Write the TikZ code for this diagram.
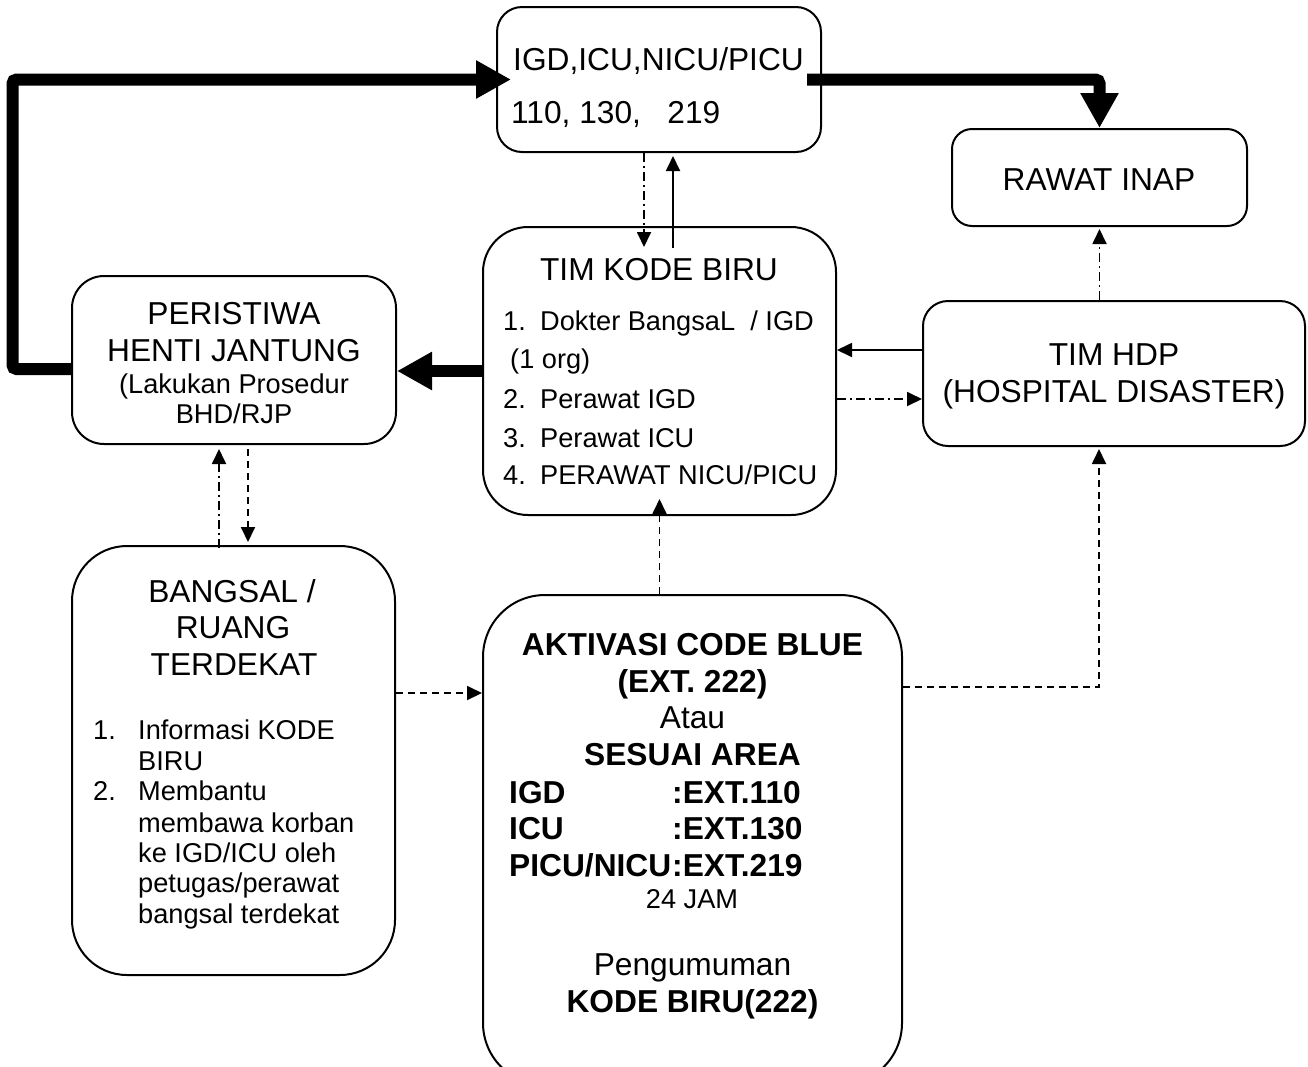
\documentclass[tikz,border=0pt]{standalone}
\usepackage{fontspec}
\setmainfont{Liberation Sans}
\usetikzlibrary{arrows.meta}

\newcommand\bigfont{\fontsize{31.7pt}{36.7pt}\selectfont}
\newcommand\midfont{\fontsize{27.2pt}{31pt}\selectfont}

\tikzset{
	box/.style={draw, line width=2pt, rounded corners=#1, inner sep=0pt},
	txt/.style={inner sep=0pt, font=\bigfont},
	boldtxt/.style={inner sep=0pt, font=\bigfont\bfseries},
	subtxt/.style={inner sep=0pt, font=\midfont},
	thickarrow/.style={line width=12pt, rounded corners=4pt,
		-{Triangle[length=35pt,width=36pt]}},
	thinarrow/.style={line width=1.8pt, -{Triangle[length=15pt,width=14pt]}},
	dashedline/.style={dash pattern=on 7pt off 5pt},
	dashdotline/.style={dash pattern=on 9pt off 4pt on 2pt off 4pt},
}

\begin{document}
\begin{tikzpicture}[x=1pt,y=-1pt]
	
	\fill[white] (0,0) rectangle (1308,1066);
	\useasboundingbox (0,0) rectangle (1308,1066);
	
	% boxes
	\node[box=25pt, minimum width=324pt, minimum height=145pt] (igd) at (659,79.5) {};
	\node[box=45pt, minimum width=353pt, minimum height=288pt] (kode) at (659.5,371) {};
	\node[box=20pt, minimum width=295pt, minimum height=97pt] (rawat) at (1099.5,177.5) {};
	\node[box=25pt, minimum width=382pt, minimum height=145pt] (hdp) at (1114,373.5) {};
	\node[box=32pt, minimum width=324pt, minimum height=168pt] (peri) at (234,360) {};
	\node[box=55pt, minimum width=323pt, minimum height=429pt] (bangsal) at (233.5,760.5) {};
	\node[box=62pt, minimum width=419pt, minimum height=490pt] (akt) at (692.5,840) {};
	
	% texts
	\node[txt, anchor=base west] (igdtop) at (513,70) {IGD,ICU,NICU/PICU};
	\node[txt, anchor=base west] (igdext) at (511,123) {110, 130,\ \ \ 219};
	
	\node[txt, anchor=base] (kodetitle) at (659,280) {TIM KODE BIRU};
	\foreach \n/\item/\y in {1/{Dokter BangsaL\ \ / IGD}/330, 2/{Perawat IGD}/408,
		3/{Perawat ICU}/447, 4/{PERAWAT NICU/PICU}/484}
	{
		\node[subtxt, anchor=base west] (kodenum\n) at (503,\y) {\n.};
		\node[subtxt, anchor=base west] (kodeitem\n) at (540,\y) {\item};
	}
	\node[subtxt, anchor=base west] (kodeorg) at (510,368) {(1 org)};
	
	\node[txt, anchor=base] (rawattxt) at (1099,190) {RAWAT INAP};
	\node[txt, anchor=base] (hdptop) at (1114,365) {TIM HDP};
	\node[txt, anchor=base] (hdpsub) at (1114,402) {(HOSPITAL DISASTER)};
	
	\node[txt, anchor=base] (peritop) at (234,324) {PERISTIWA};
	\node[txt, anchor=base] (perimid) at (234,361) {HENTI JANTUNG};
	\node[subtxt, anchor=base] (perisub) at (234,393) {(Lakukan Prosedur};
	\node[subtxt, anchor=base] (peribot) at (234,423) {BHD/RJP};
	
	\node[txt, anchor=base] (bangsaltop) at (232,602) {BANGSAL /};
	\node[txt, anchor=base] (bangsalmid) at (233,638) {RUANG};
	\node[txt, anchor=base] (bangsalbot) at (234,675) {TERDEKAT};
	\node[subtxt, anchor=base west] (bangsalnum1) at (93,739) {1.};
	\node[subtxt, anchor=base west] (bangsalnum2) at (93,800) {2.};
	\foreach \item/\y [count=\i] in {Informasi KODE/739, BIRU/770, Membantu/800,
		membawa korban/832, {ke IGD/ICU oleh}/862, {petugas/perawat}/892,
		bangsal terdekat/923}
		\node[subtxt, anchor=base west] (bangsalitem\i) at (138,\y) {\item};
	
	\node[boldtxt, anchor=base] (akttitle) at (692.5,655) {AKTIVASI CODE BLUE};
	\node[boldtxt, anchor=base] (aktext) at (692.5,692) {(EXT. 222)};
	\node[txt, anchor=base] (aktatau) at (692.5,728) {Atau};
	\node[boldtxt, anchor=base] (aktarea) at (692.5,765) {SESUAI AREA};
	\foreach \unit/\ext/\y in {IGD/110/803, ICU/130/839, {PICU/NICU}/219/876}
	{
		\node[boldtxt, anchor=base west] (aktunit\ext) at (509,\y) {\unit};
		\node[boldtxt, anchor=base west] (aktnum\ext) at (672,\y) {:EXT.\ext};
	}
	\node[subtxt, anchor=base] (aktjam) at (692,908) {24 JAM};
	\node[txt, anchor=base] (aktinfo) at (692.5,975) {Pengumuman};
	\node[boldtxt, anchor=base] (aktkode) at (692.5,1012) {KODE BIRU(222)};
	
	% thick connectors
	\draw[thickarrow, shorten >=-15pt] ([yshift=-9pt]peri.west) -- ++(-58.5,0) |- (igd.west);
	\draw[thickarrow, shorten <=-15pt] (igd.east) -| (rawat.north);
	\draw[thickarrow] (kode.west) -- (kode.west -| peri.east);
	
	% thin connectors
	\draw[thinarrow] ([yshift=23.5pt]hdp.west) -- ([yshift=23.5pt]hdp.west -| kode.east);
	\draw[thinarrow, dashdotline] ([yshift=-25.5pt]hdp.west -| kode.east) -- ([yshift=-25.5pt]hdp.west);
	\draw[thinarrow, dashdotline, shorten >=-21pt] ([xshift=-15pt]igd.south) -- ([xshift=-15pt]igd.south |- kode.north);
	\draw[thinarrow, shorten <=-22pt, shorten >=3pt] ([xshift=14pt]igd.south |- kode.north) -- ([xshift=14pt]igd.south);
	\draw[thinarrow, dashedline, shorten >=-17pt] (kode.south |- akt.north) -- (kode.south);
	\draw[thinarrow, dashedline] ([yshift=67.5pt]bangsal.east) -- ([yshift=67.5pt]bangsal.east -| akt.west);
	\draw[thinarrow, dashedline, shorten >=2pt] ([yshift=153pt]akt.east) -| ([xshift=-15pt]hdp.south);
	\draw[thinarrow, dashdotline, shorten >=2pt] (rawat.south |- hdp.north) -- (rawat.south);
	\draw[thinarrow, dashdotline, shorten <=-3pt, shorten >=4pt] ([xshift=-15pt]peri.south |- bangsal.north) -- ([xshift=-15pt]peri.south);
	\draw[thinarrow, dashedline, shorten <=4pt, shorten >=3pt] ([xshift=14pt]peri.south) -- ([xshift=14pt]peri.south |- bangsal.north);
	
\end{tikzpicture}
\end{document}
